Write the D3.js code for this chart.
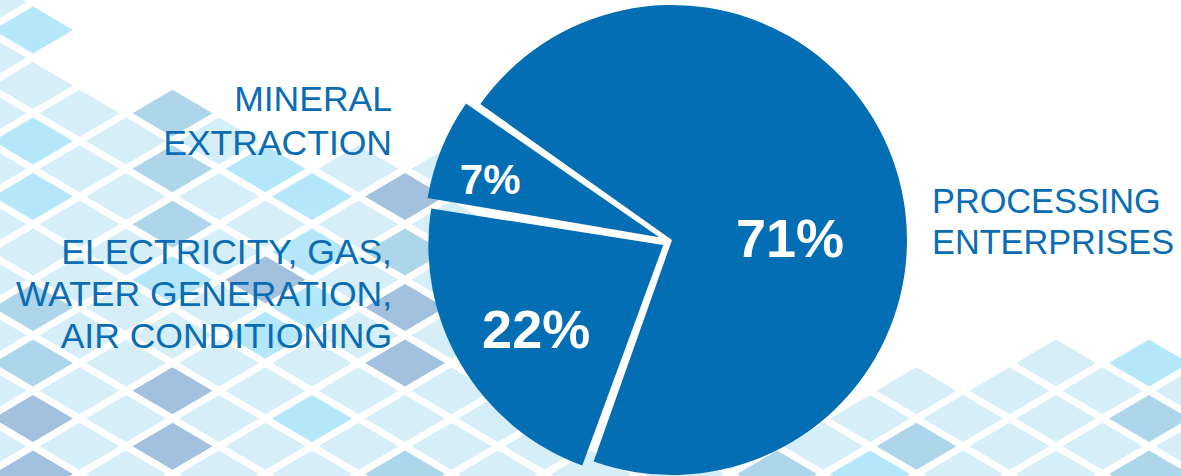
<!DOCTYPE html>
<html>
<head>
<meta charset="utf-8">
<script src="https://cdn.jsdelivr.net/npm/d3@7/dist/d3.min.js"></script>
<style>
  html, body { margin: 0; padding: 0; background: #fff; }
  svg { display: block; }
</style>
</head>
<body>
<svg id="chart"></svg>
<script>
// data
const categories = ['Processing enterprises', 'Electricity, gas, water generation, air conditioning', 'Mineral extraction'];
const shares = [71, 22, 7];
const shareText = ['71%', '22%', '7%'];
const labelLines = [
  ['PROCESSING', 'ENTERPRISES'],
  ['ELECTRICITY, GAS,', 'WATER GENERATION,', 'AIR CONDITIONING'],
  ['MINERAL', 'EXTRACTION']
];

const W = 1181, H = 476;
const cx = 672, cy = 240, R = 235;
const blue = '#046eb5';
const rad = a => a * Math.PI / 180;

const svg = d3.select('#chart').attr('width', W).attr('height', H);

// background diamonds
const tileColors = ['#d5eef8', '#b3e7f9', '#aed6ea', '#a2c1df'];
const edgeX = [-20, 33, 79.5, 126, 173, 219.5, 266, 312.5, 359, 405.5, 452, 600, 800, 870, 917, 963.5, 1010, 1057, 1103.5, 1149, 1200];
const edgeY = [-5, 25, 70, 100, 110, 130, 160, 165, 165, 165, 160, 440, 440, 410, 385, 380, 385, 360, 345, 360, 360];
const edge = d3.scaleLinear().domain(edgeX).range(edgeY).clamp(true);

const tiles = [];
for (let j = -1; j < 18; j++) {
  for (let i = -1; i < 27; i++) {
    if ((i + j + 2) % 2) continue;
    const x = 33 + 46.5 * i, y = 30 + 27.75 * j;
    if (y < edge(x)) continue;
    let h = ((i + 7) * 2654435761 ^ (j + 11) * 40503) >>> 0;
    h = (h ^ (h >>> 13)) % 100;
    const t = (x > 100 && x < 520 && y > 290) ? [28, 52, 72] : [34, 72, 92];
    const c = h < t[0] ? 0 : h < t[1] ? 1 : h < t[2] ? 2 : 3;
    tiles.push({ x, y, c });
  }
}

svg.append('g').selectAll('path').data(tiles).join('path')
  .attr('d', d => `M${d.x},${d.y - 23.5}L${d.x + 40},${d.y}L${d.x},${d.y + 23.5}L${d.x - 40},${d.y}Z`)
  .attr('fill', d => tileColors[d.c]);

// pie
const pie = d3.pie().sort(null).value(d => d)
  .startAngle(rad(-55)).endAngle(rad(305))
  .padAngle(0.012);
const arcs = pie(shares);
const arc = d3.arc().innerRadius(0).outerRadius(R).padRadius(R);
// pull-out of each slice: distance and direction (deg, clockwise from 12 o'clock)
const explode = [{ d: 0, a: 0 }, { d: 10, a: 240.2 }, { d: 13, a: 282.4 }];

const g = svg.append('g').attr('transform', `translate(${cx},${cy})`);
g.selectAll('path.slice').data(arcs).join('path')
  .attr('class', 'slice')
  .attr('fill', blue)
  .attr('transform', (d, i) => {
    const e = explode[i];
    return `translate(${Math.sin(rad(e.a)) * e.d},${-Math.cos(rad(e.a)) * e.d})`;
  })
  .attr('d', arc);

// percent labels
const pctPos = [{ r: 118, a: 89, size: 54 }, { r: 162, a: 237, size: 54 }, { r: 192, a: 288.7, size: 42 }];
g.selectAll('text.pct').data(arcs).join('text')
  .attr('class', 'pct')
  .attr('x', (d, i) => Math.sin(rad(pctPos[i].a)) * pctPos[i].r)
  .attr('y', (d, i) => -Math.cos(rad(pctPos[i].a)) * pctPos[i].r)
  .attr('dy', '0.36em')
  .attr('text-anchor', 'middle')
  .attr('fill', '#fff')
  .attr('font-family', 'Liberation Sans, Arial, sans-serif')
  .attr('font-weight', 'bold')
  .attr('font-size', (d, i) => pctPos[i].size)
  .text((d, i) => shareText[i]);

// category labels
const labelPos = [
  { x: 932, y: 213, anchor: 'start', step: 41, size: 34.3 },
  { x: 392, y: 264, anchor: 'end', step: 42, size: 35.5 },
  { x: 392, y: 111, anchor: 'end', step: 44, size: 35.5 }
];
const lab = svg.append('g')
  .attr('font-family', 'Liberation Sans, Arial, sans-serif')
  .attr('fill', '#0a6db4');
labelLines.forEach((lines, i) => {
  const p = labelPos[i];
  lab.append('text')
    .attr('text-anchor', p.anchor)
    .attr('font-size', p.size)
    .selectAll('tspan').data(lines).join('tspan')
    .attr('x', p.x)
    .attr('y', (d, k) => p.y + k * p.step)
    .text(d => d);
});
</script>
</body>
</html>
